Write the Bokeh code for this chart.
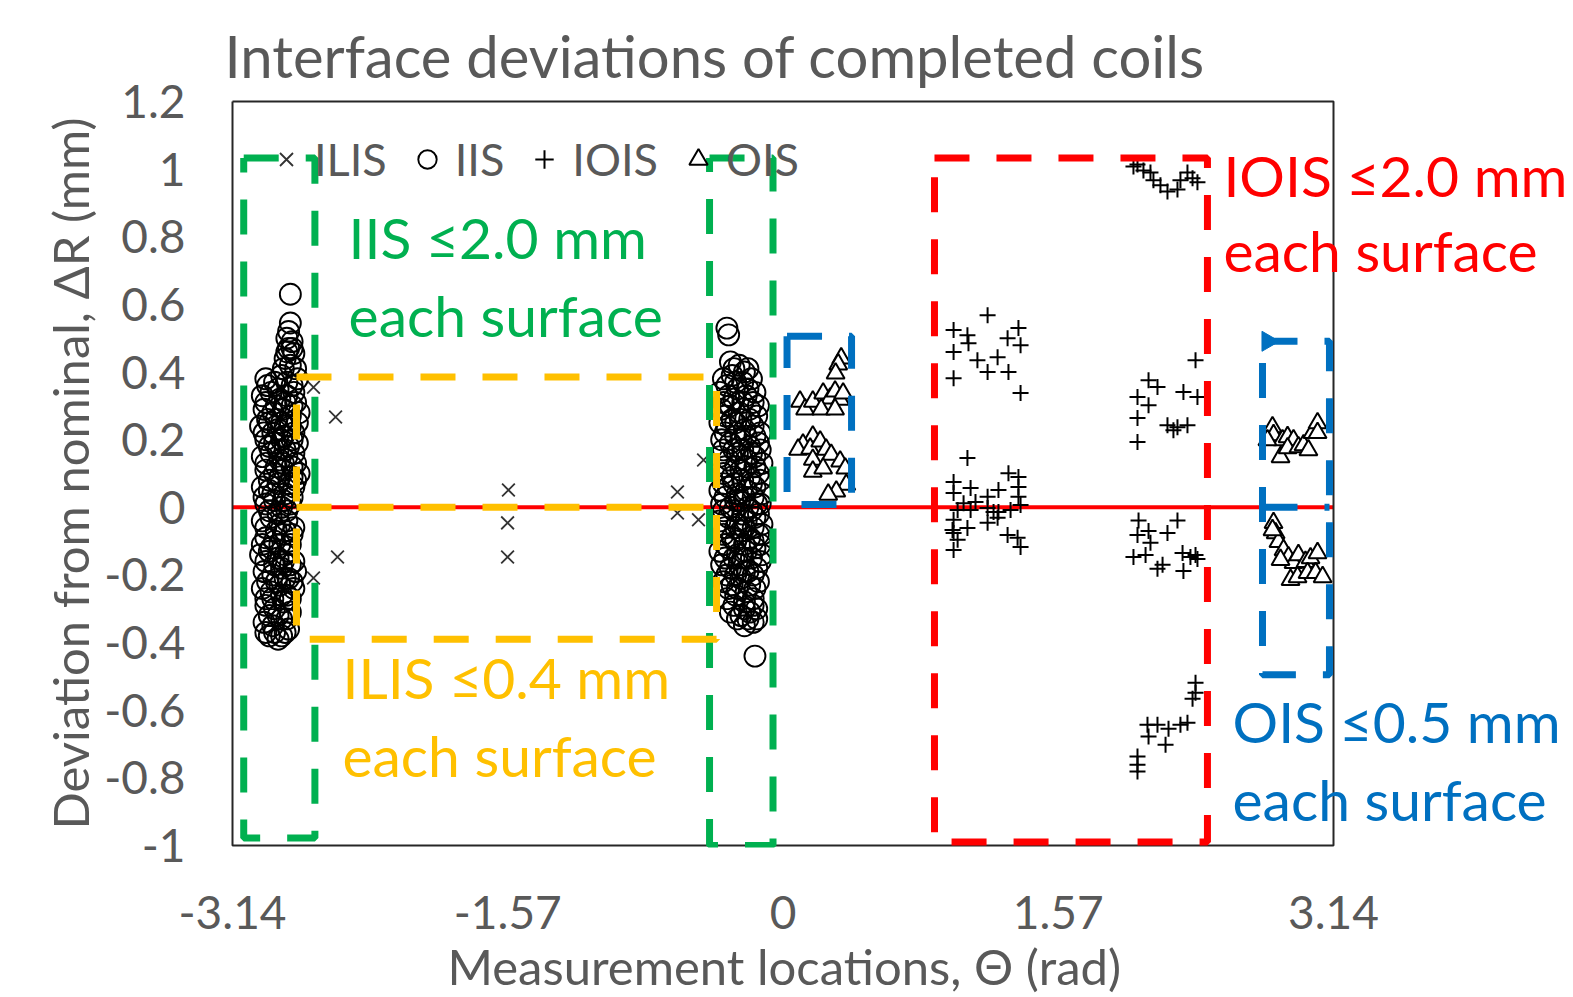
import math
from bokeh.plotting import figure
from bokeh.models import FixedTicker, Label, Legend, LegendItem, Title
from bokeh.embed import file_html
from bokeh.resources import INLINE

# ---------------- data ----------------
series_names = ["ILIS", "IIS", "IOIS", "OIS"]

ilis_x = [-2.678, -2.552, -2.541, -2.678, -1.566, -1.571, -1.571, -0.602, -0.602, -0.482, -0.453]
ilis_y = [0.355, 0.267, -0.147, -0.209, 0.051, -0.046, -0.147, 0.045, -0.017, -0.037, 0.140]

iis_pts = [
    # cluster near -3.14
    (-2.81, 0.63), (-2.81, 0.545), (-2.83, 0.50), (-2.80, 0.49), (-2.82, 0.47), (-2.79, 0.455), (-2.84, 0.44),
    (-2.82, 0.52), (-2.80, 0.47), (-2.83, 0.46), (-2.81, 0.42), (-2.85, 0.41), (-2.78, 0.41),
    (-2.95, 0.38), (-2.90, 0.37), (-2.86, 0.39), (-2.80, 0.36), (-2.77, 0.38),
    (-2.94, 0.36), (-2.88, 0.35), (-2.83, 0.37), (-2.79, 0.34),
    (-2.97, 0.33), (-2.92, 0.34), (-2.87, 0.32), (-2.83, 0.33), (-2.78, 0.31),
    (-2.95, 0.31), (-2.89, 0.30), (-2.84, 0.31), (-2.80, 0.30),
    (-2.96, 0.29), (-2.91, 0.28), (-2.85, 0.29), (-2.81, 0.27), (-2.76, 0.28),
    (-2.94, 0.26), (-2.89, 0.26), (-2.86, 0.25), (-2.81, 0.24), (-2.77, 0.25),
    (-2.98, 0.24), (-2.93, 0.25), (-2.88, 0.23), (-2.84, 0.24), (-2.79, 0.22),
    (-2.96, 0.22), (-2.91, 0.22), (-2.85, 0.21), (-2.80, 0.20),
    (-2.95, 0.20), (-2.90, 0.19), (-2.86, 0.20), (-2.82, 0.18), (-2.77, 0.19),
    (-2.93, 0.18), (-2.88, 0.17), (-2.84, 0.17), (-2.79, 0.16),
    (-2.97, 0.15), (-2.92, 0.16), (-2.87, 0.14), (-2.83, 0.15), (-2.78, 0.13),
    (-2.95, 0.13), (-2.89, 0.12), (-2.85, 0.13), (-2.80, 0.12),
    (-2.95, 0.11), (-2.90, 0.10), (-2.85, 0.11), (-2.80, 0.09), (-2.76, 0.10),
    (-2.93, 0.08), (-2.87, 0.09), (-2.82, 0.07), (-2.78, 0.08),
    (-2.97, 0.06), (-2.93, 0.05), (-2.88, 0.07), (-2.84, 0.04), (-2.79, 0.06),
    (-2.96, 0.03), (-2.91, 0.04), (-2.85, 0.02), (-2.80, 0.03),
    (-2.95, 0.01), (-2.90, 0.02), (-2.86, 0.00), (-2.81, 0.01),
    (-2.93, -0.01), (-2.88, -0.02), (-2.83, -0.01),
    (-2.97, -0.04), (-2.92, -0.03), (-2.87, -0.05), (-2.83, -0.04), (-2.79, -0.06),
    (-2.95, -0.06), (-2.89, -0.07), (-2.84, -0.07), (-2.80, -0.08),
    (-2.95, -0.09), (-2.90, -0.10), (-2.85, -0.08), (-2.81, -0.11),
    (-2.97, -0.11), (-2.92, -0.12), (-2.87, -0.11), (-2.82, -0.13),
    (-2.98, -0.14), (-2.93, -0.13), (-2.88, -0.15), (-2.84, -0.14), (-2.79, -0.16),
    (-2.95, -0.16), (-2.90, -0.17), (-2.85, -0.16), (-2.81, -0.17),
    (-2.96, -0.19), (-2.91, -0.20), (-2.86, -0.18), (-2.82, -0.21), (-2.78, -0.19),
    (-2.94, -0.22), (-2.89, -0.22), (-2.84, -0.21), (-2.80, -0.22),
    (-2.97, -0.24), (-2.92, -0.25), (-2.87, -0.23), (-2.83, -0.26), (-2.79, -0.24),
    (-2.95, -0.27), (-2.91, -0.27), (-2.86, -0.26), (-2.81, -0.27),
    (-2.95, -0.29), (-2.90, -0.30), (-2.85, -0.28), (-2.81, -0.31),
    (-2.93, -0.32), (-2.88, -0.32), (-2.83, -0.33),
    (-2.96, -0.34), (-2.91, -0.35), (-2.86, -0.33), (-2.82, -0.36),
    (-2.95, -0.37), (-2.90, -0.37), (-2.86, -0.38),
    (-2.93, -0.38), (-2.88, -0.39), (-2.84, -0.37),
    # cluster near 0
    (-0.32, 0.53), (-0.31, 0.51), (-0.16, -0.44),
    (-0.30, 0.43), (-0.25, 0.42), (-0.20, 0.41),
    (-0.28, 0.41), (-0.22, 0.40), (-0.32, 0.36), (-0.27, 0.37), (-0.20, 0.35),
    (-0.34, 0.38), (-0.29, 0.39), (-0.23, 0.37), (-0.18, 0.38),
    (-0.36, 0.34), (-0.31, 0.33), (-0.26, 0.35), (-0.21, 0.33), (-0.16, 0.34),
    (-0.34, 0.31), (-0.28, 0.32), (-0.23, 0.31), (-0.17, 0.31),
    (-0.35, 0.29), (-0.30, 0.30), (-0.25, 0.28), (-0.19, 0.29), (-0.14, 0.30),
    (-0.33, 0.27), (-0.29, 0.26), (-0.24, 0.26), (-0.19, 0.26), (-0.15, 0.27),
    (-0.36, 0.25), (-0.32, 0.24), (-0.27, 0.25), (-0.22, 0.23), (-0.17, 0.24), (-0.13, 0.22),
    (-0.33, 0.22), (-0.27, 0.21), (-0.21, 0.21), (-0.16, 0.21),
    (-0.35, 0.20), (-0.30, 0.19), (-0.24, 0.20), (-0.19, 0.18), (-0.14, 0.19),
    (-0.34, 0.17), (-0.28, 0.17), (-0.23, 0.17), (-0.18, 0.16), (-0.13, 0.17),
    (-0.36, 0.15), (-0.31, 0.14), (-0.26, 0.16), (-0.21, 0.14), (-0.16, 0.15), (-0.12, 0.13),
    (-0.33, 0.12), (-0.27, 0.12), (-0.21, 0.12), (-0.16, 0.12),
    (-0.34, 0.10), (-0.29, 0.09), (-0.24, 0.11), (-0.19, 0.09), (-0.14, 0.10),
    (-0.34, 0.07), (-0.28, 0.07), (-0.23, 0.08), (-0.18, 0.07), (-0.13, 0.08),
    (-0.36, 0.05), (-0.31, 0.06), (-0.26, 0.04), (-0.21, 0.05), (-0.16, 0.06), (-0.12, 0.04),
    (-0.33, 0.03), (-0.27, 0.02), (-0.22, 0.03), (-0.17, 0.03), (-0.13, 0.01),
    (-0.35, 0.01), (-0.30, 0.00), (-0.25, 0.02), (-0.20, 0.00), (-0.15, 0.01),
    (-0.34, -0.01), (-0.28, -0.01), (-0.23, -0.02), (-0.18, -0.01), (-0.14, -0.02),
    (-0.36, -0.04), (-0.31, -0.03), (-0.26, -0.05), (-0.21, -0.04), (-0.16, -0.03), (-0.12, -0.05),
    (-0.33, -0.06), (-0.27, -0.06), (-0.22, -0.06), (-0.17, -0.06), (-0.12, -0.08),
    (-0.34, -0.08), (-0.29, -0.09), (-0.24, -0.07), (-0.19, -0.09), (-0.14, -0.08),
    (-0.33, -0.11), (-0.27, -0.10), (-0.22, -0.11), (-0.17, -0.10), (-0.13, -0.11),
    (-0.36, -0.13), (-0.31, -0.12), (-0.26, -0.14), (-0.21, -0.13), (-0.16, -0.12), (-0.12, -0.14),
    (-0.33, -0.15), (-0.28, -0.15), (-0.23, -0.15), (-0.18, -0.15), (-0.13, -0.16),
    (-0.35, -0.17), (-0.30, -0.18), (-0.25, -0.17), (-0.20, -0.19), (-0.15, -0.18),
    (-0.32, -0.20), (-0.27, -0.20), (-0.22, -0.19), (-0.17, -0.20),
    (-0.34, -0.22), (-0.29, -0.23), (-0.24, -0.21), (-0.19, -0.23), (-0.14, -0.22),
    (-0.31, -0.24), (-0.26, -0.24), (-0.21, -0.25), (-0.16, -0.24),
    (-0.32, -0.27), (-0.27, -0.26), (-0.22, -0.28), (-0.17, -0.27),
    (-0.28, -0.29), (-0.22, -0.30), (-0.17, -0.29),
    (-0.30, -0.31), (-0.24, -0.32), (-0.19, -0.31), (-0.15, -0.30),
    (-0.26, -0.33), (-0.20, -0.33), (-0.15, -0.33),
    (-0.22, -0.35), (-0.17, -0.34),
]
iis_x = [pt[0] for pt in iis_pts]
iis_y = [pt[1] for pt in iis_pts]

iois_pts = [
    # upper left group
    (1.167, 0.568), (0.973, 0.524), (1.052, 0.509), (1.058, 0.485), (0.973, 0.459), (1.109, 0.435),
    (1.224, 0.444), (1.167, 0.400), (1.286, 0.400), (1.281, 0.500), (1.343, 0.530), (1.355, 0.479),
    (0.973, 0.382), (1.355, 0.338),
    # upper right group
    (2.353, 0.435), (2.085, 0.376), (2.136, 0.356), (2.022, 0.326), (2.085, 0.302), (2.022, 0.264),
    (2.022, 0.193), (2.284, 0.341), (2.364, 0.326), (2.193, 0.243), (2.250, 0.237), (2.307, 0.243),
    (2.227, 0.228),
    # lower left group
    (1.052, 0.146), (0.973, 0.075), (1.070, 0.057), (0.973, 0.042), (1.030, 0.012), (1.098, 0.016),
    (1.167, 0.031), (1.229, 0.051), (1.286, 0.101), (1.343, 0.090), (1.343, 0.060), (1.343, 0.031),
    (1.355, 0.007), (1.167, -0.002), (1.229, -0.014), (1.298, -0.008), (0.996, -0.008), (1.070, -0.008),
    (0.973, -0.037), (1.052, -0.061), (1.167, -0.046), (1.224, -0.031), (0.973, -0.076), (0.967, -0.067),
    (0.996, -0.096), (0.973, -0.126), (1.281, -0.082), (1.338, -0.090), (1.355, -0.117), (1.201, -0.014),
    # top group
    (1.999, 1.008), (2.022, 1.014), (2.056, 0.996), (2.096, 0.990), (2.113, 0.967), (2.153, 0.952),
    (2.193, 0.934), (2.250, 0.940), (2.267, 0.967), (2.307, 0.990), (2.336, 0.973), (2.364, 0.961),
    # lower right group
    (2.028, -0.039), (2.022, -0.082), (2.085, -0.070), (2.096, -0.105), (1.999, -0.147), (2.068, -0.141),
    (2.250, -0.039), (2.193, -0.076), (2.136, -0.182), (2.165, -0.170), (2.279, -0.135), (2.324, -0.147),
    (2.353, -0.141), (2.284, -0.188), (2.364, -0.153),
    # bottom group
    (2.353, -0.519), (2.353, -0.548), (2.336, -0.566), (2.079, -0.643), (2.136, -0.643), (2.199, -0.655),
    (2.267, -0.643), (2.307, -0.637), (2.085, -0.678), (2.182, -0.702), (2.022, -0.737), (2.022, -0.761),
    (2.022, -0.781),
]
iois_x = [pt[0] for pt in iois_pts]
iois_y = [pt[1] for pt in iois_pts]

ois_pts = [
    # near 0
    (0.332, 0.441), (0.315, 0.423), (0.300, 0.396), (0.097, 0.313), (0.126, 0.290), (0.170, 0.313),
    (0.229, 0.337), (0.269, 0.322), (0.297, 0.343), (0.326, 0.319), (0.343, 0.337), (0.218, 0.290),
    (0.297, 0.290), (0.170, 0.210), (0.114, 0.186), (0.086, 0.171), (0.155, 0.174), (0.212, 0.195),
    (0.246, 0.171), (0.170, 0.141), (0.275, 0.156), (0.326, 0.136), (0.355, 0.115), (0.170, 0.106),
    (0.229, 0.115), (0.361, 0.067), (0.304, 0.047), (0.258, 0.038),
    # near 3.14, upper
    (2.792, 0.237), (2.798, 0.214), (2.849, 0.199), (2.878, 0.208), (2.912, 0.199), (2.838, 0.149),
    (2.878, 0.175), (2.940, 0.178), (2.969, 0.184), (2.997, 0.169), (3.020, 0.220), (3.049, 0.249),
    (3.049, 0.220), (2.763, 0.199),
    # near 3.14, lower
    (2.798, -0.046), (2.810, -0.076), (2.826, -0.102), (2.855, -0.126), (2.883, -0.147), (2.912, -0.164),
    (2.940, -0.141), (2.980, -0.161), (3.009, -0.150), (3.049, -0.135), (2.895, -0.214), (2.935, -0.206),
    (2.992, -0.194), (3.038, -0.194), (3.078, -0.206), (2.838, -0.155), (2.792, -0.067),
]
ois_x = [pt[0] for pt in ois_pts]
ois_y = [pt[1] for pt in ois_pts]

x_min, x_max = -3.14, 3.14
y_min, y_max = -1.0, 1.2
x_ticks = [-3.14, -1.57, 0, 1.57, 3.14]
x_tick_labels = ["-3.14", "-1.57", "0", "1.57", "3.14"]
y_ticks = [-1, -0.8, -0.6, -0.4, -0.2, 0, 0.2, 0.4, 0.6, 0.8, 1, 1.2]
y_tick_labels = ["-1", "-0.8", "-0.6", "-0.4", "-0.2", "0", "0.2", "0.4", "0.6", "0.8", "1", "1.2"]

# tolerance zones drawn as dashed boxes (data units)
zone_x0 = [-3.076, -0.419, -2.775, 0.864, 0.023, 2.735]
zone_x1 = [-2.670, -0.057, -0.379, 2.421, 0.391, 3.117]
zone_y0 = [-0.978, -1.000, -0.390, -0.990, 0.008, -0.495]
zone_y1 = [1.033, 1.033, 0.385, 1.033, 0.506, 0.491]
zone_split = [False, False, True, False, False, True]
zone_kind = ["IIS", "IIS", "ILIS", "IOIS", "OIS", "OIS"]

note_line1 = ["IIS ≤2.0 mm", "ILIS ≤0.4 mm", "IOIS ≤2.0 mm", "OIS ≤0.5 mm"]
note_line2 = ["each surface", "each surface", "each surface", "each surface"]
note_kind = ["IIS", "ILIS", "IOIS", "OIS"]
note_x = [-2.478, -2.513, 2.512, 2.564]
note_y1 = [0.800, -0.503, 0.984, -0.632]
note_y2 = [0.568, -0.731, 0.761, -0.863]

# ---------------- layout / styling ----------------
FONT = "Lato"
GRAY = "#595959"
kind_color = {"IIS": "#00B050", "ILIS": "#FFC000", "IOIS": "#FF0000", "OIS": "#0070C0"}

W, H = 1573, 997
FRAME_L, FRAME_T, FRAME_B = 230, 99, 848          # page pixels of the plotting frame
ux = (x_max - x_min) / 1101.0                       # data units per pixel
uy = (y_max - y_min) / 745.0
xr = (x_min - 2 * ux, x_min - 2 * ux + (W - FRAME_L) * ux)   # frame runs to the right edge so notes are not clipped
yr = (y_min - 2 * uy, y_max + 2 * uy)

p = figure(width=W, height=H, x_range=xr, y_range=yr,
           output_backend="svg", toolbar_location=None,
           min_border_left=FRAME_L, min_border_right=0, min_border_top=FRAME_T,
           min_border_bottom=H - FRAME_B)
p.background_fill_color = "white"
p.border_fill_color = "white"
p.outline_line_color = None
p.grid.visible = False

p.title.text = "Interface deviations of completed coils"
p.title.text_font = FONT
p.title.text_font_size = "58px"
p.title.text_font_style = "normal"
p.title.text_color = GRAY
p.title.align = "left"
p.title.offset = -6
p.title.standoff = 19

for ax in (p.xaxis[0], p.yaxis[0]):
    ax.axis_line_color = None
    ax.major_tick_line_color = None
    ax.minor_tick_line_color = None
    ax.major_label_text_font = FONT
    ax.major_label_text_font_size = "46px"
    ax.major_label_text_color = GRAY
    ax.axis_label_text_font = FONT
    ax.axis_label_text_font_size = "49px"
    ax.axis_label_text_font_style = "normal"
    ax.axis_label_text_color = GRAY

p.xaxis[0].ticker = FixedTicker(ticks=x_ticks)
p.xaxis[0].major_label_overrides = {t: l for t, l in zip(x_ticks, x_tick_labels)}
p.xaxis[0].major_label_standoff = 42

p.yaxis[0].bounds = (y_min, y_max)
p.yaxis[0].ticker = FixedTicker(ticks=y_ticks)
p.yaxis[0].major_label_overrides = {t: l for t, l in zip(y_ticks, y_tick_labels)}
p.yaxis[0].major_label_standoff = 39
p.yaxis[0].axis_label = "Deviation from nominal, ΔR (mm)"
p.yaxis[0].axis_label_standoff = 2

# x-axis title, centred under the -3.14..3.14 span (the frame itself runs further right)
p.add_layout(Title(text="Measurement locations, Θ (rad)", text_font=FONT, text_font_size="49px",
                   text_font_style="normal", text_color=GRAY, align="left", offset=217,
                   standoff=6), "below")

# nominal line
p.line([x_min, x_max], [0, 0], line_color="#FF0000", line_width=4)

# series
r_ilis = p.scatter(ilis_x, ilis_y, marker="x", size=18, line_color="#333333", line_width=1.8)
r_iis = p.scatter(iis_x, iis_y, marker="circle", size=21, line_color="black", line_width=1.9, fill_color=None)
r_iois = p.scatter(iois_x, iois_y, marker="cross", size=16, line_color="black", line_width=2)
r_ois = p.scatter(ois_x, ois_y, marker="triangle", size=18, line_color="black", line_width=2, fill_color="white")

# plot area border
p.line([x_min, x_max, x_max, x_min, x_min], [y_max, y_max, y_min, y_min, y_max],
       line_color="#262626", line_width=2)

# tolerance boxes
for x0, x1, y0, y1, split, kind in zip(zone_x0, zone_x1, zone_y0, zone_y1, zone_split, zone_kind):
    col = kind_color[kind]
    p.line([x0, x1, x1, x0, x0], [y1, y1, y0, y0, y1], line_color=col, line_width=7, line_dash="35 27")
    if split:
        p.line([x0, x1], [0, 0], line_color=col, line_width=7, line_dash="35 27")

# small arrow head on the right-hand OIS box corner
oi = 5
p.scatter([zone_x0[oi] + 0.03], [zone_y1[oi]], marker="triangle", angle=-math.pi / 2,
          size=20, line_color=kind_color["OIS"], fill_color=kind_color["OIS"])

# zone notes
for t1, t2, kind, x, y1, y2 in zip(note_line1, note_line2, note_kind, note_x, note_y1, note_y2):
    for txt, yy in ((t1, y1), (t2, y2)):
        p.add_layout(Label(x=x, y=yy, text=txt, text_font=FONT, text_font_size="57px",
                           text_color=kind_color[kind], text_baseline="middle", text_align="left"))

legend = Legend(items=[LegendItem(label=n, renderers=[r]) for n, r in
                       zip(series_names, [r_ilis, r_iis, r_iois, r_ois])],
                location="top_left", orientation="horizontal",
                background_fill_alpha=0, border_line_alpha=0,
                label_text_font=FONT, label_text_font_size="45px", label_text_color=GRAY,
                label_standoff=5, spacing=17, glyph_width=46, glyph_height=46,
                margin=23, padding=10)
p.add_layout(legend)

open("out.html", "w").write(file_html(p, INLINE))
